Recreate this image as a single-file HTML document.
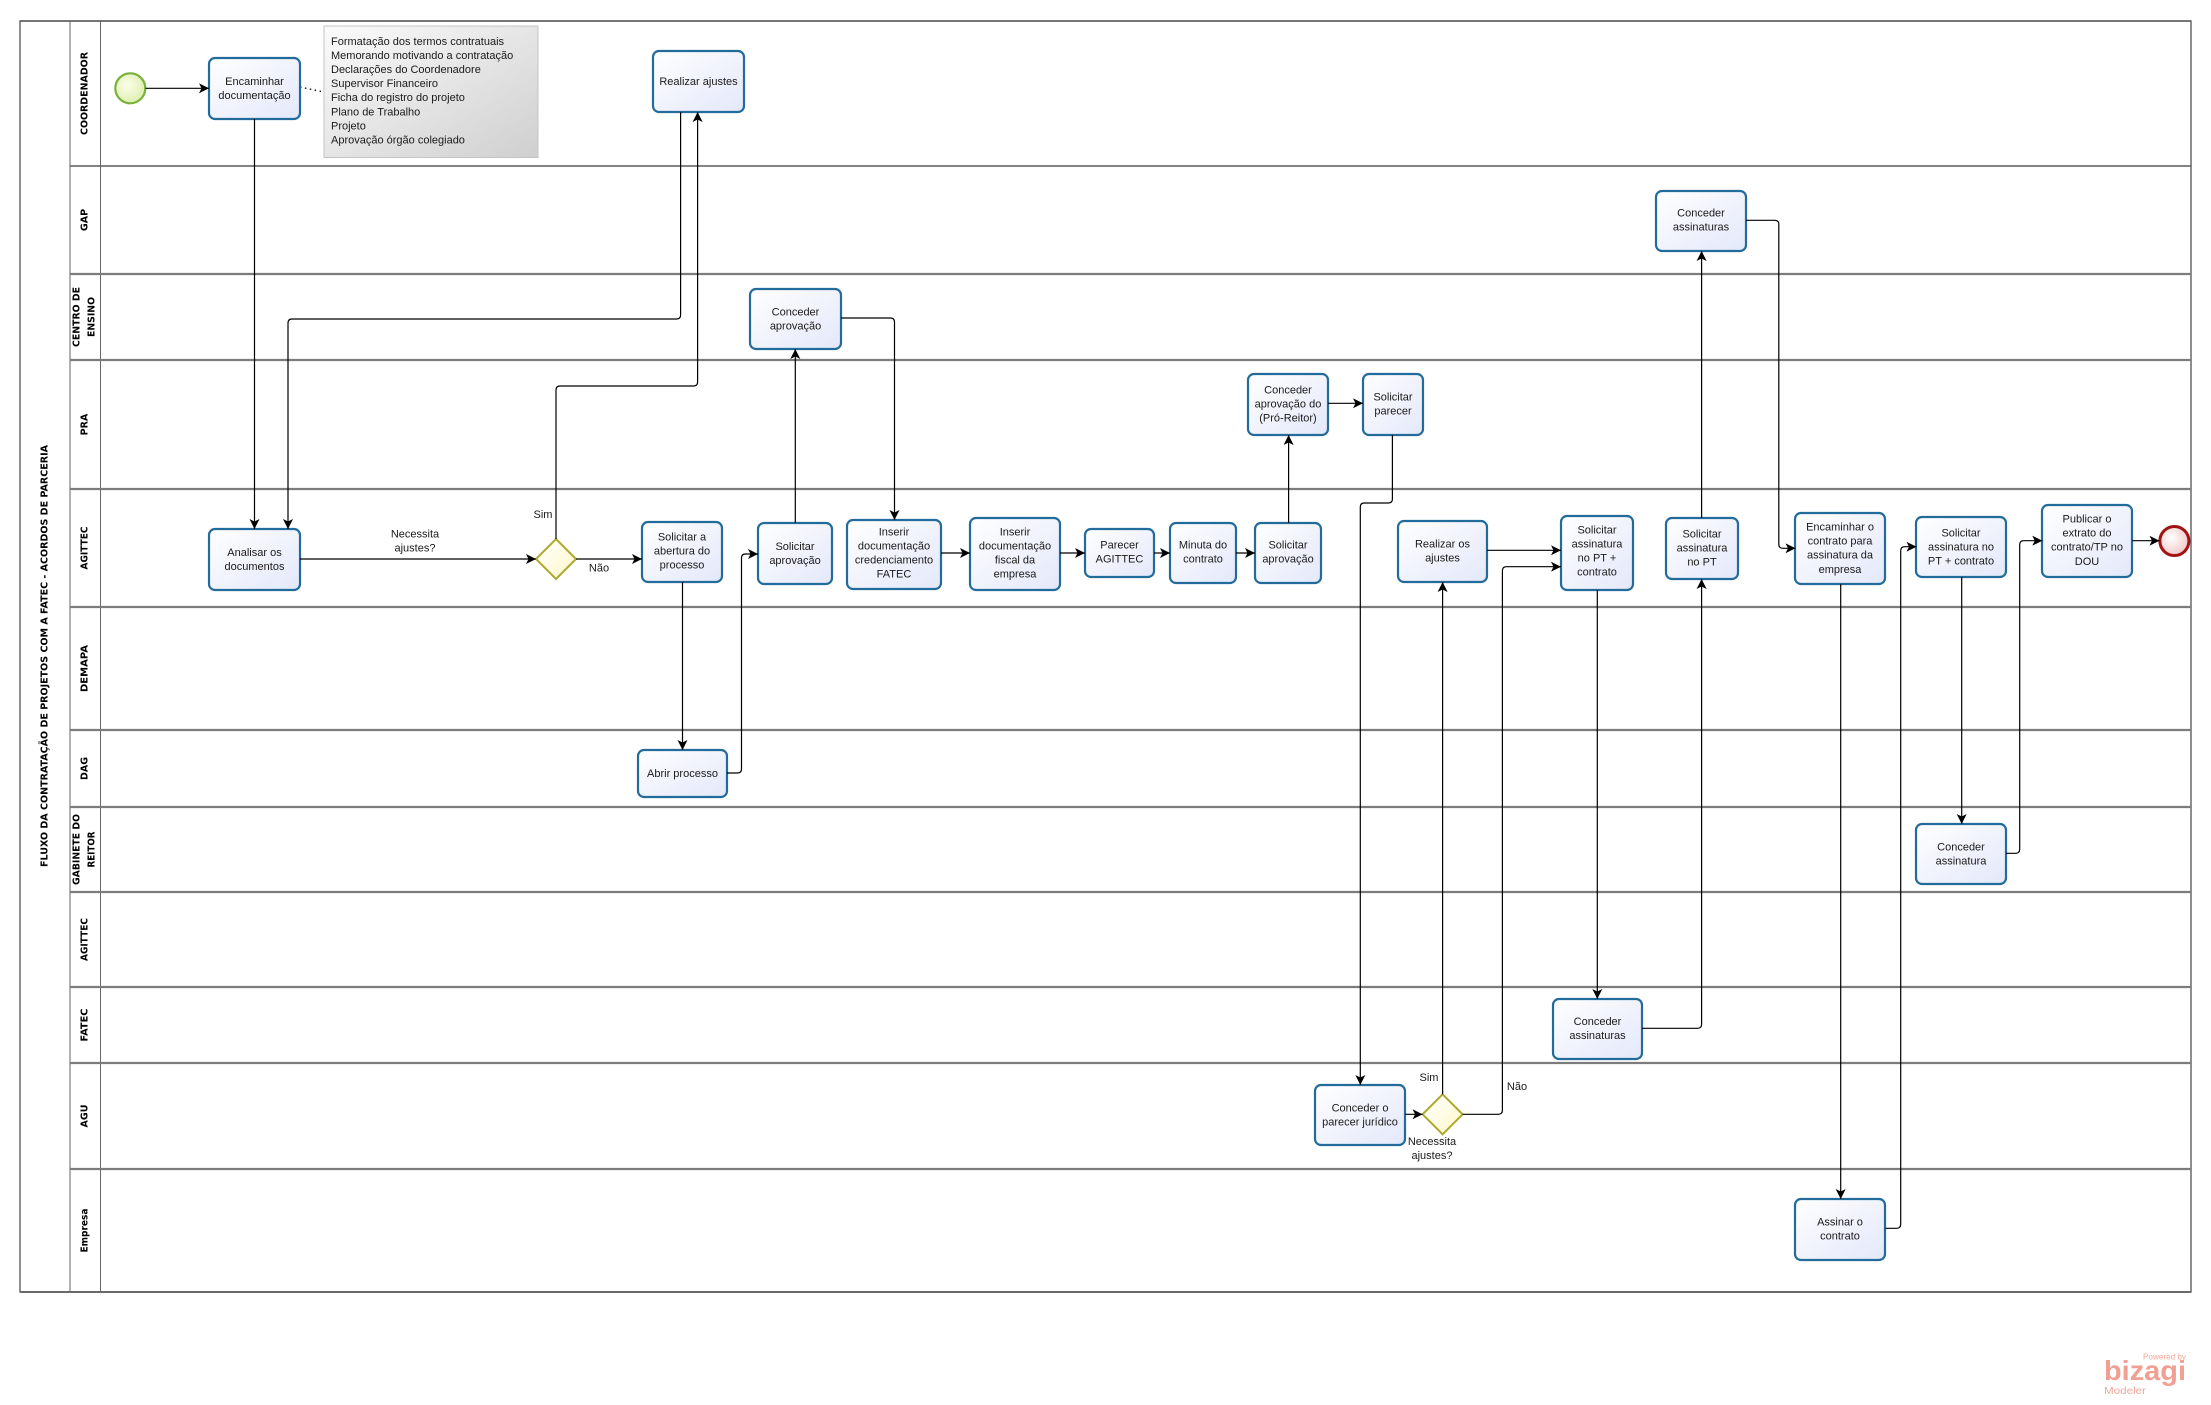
<!DOCTYPE html>
<html><head><meta charset="utf-8">
<style>
html,body{margin:0;padding:0;background:#fff;width:2211px;height:1405px;overflow:hidden}
svg{display:block}
.t{font-family:"Liberation Sans",Arial,sans-serif;font-size:11px;fill:#1a1a1a;text-anchor:middle}
.a{font-family:"Liberation Sans",Arial,sans-serif;font-size:11px;fill:#1a1a1a}
.l{font-family:"DejaVu Sans","Liberation Sans",sans-serif;font-size:9.5px;font-weight:bold;fill:#000;text-anchor:middle;dominant-baseline:central}
.c{fill:none;stroke:#000;stroke-width:1.2;marker-end:url(#ar)}
.b{fill:url(#bx);stroke:#236b9a;stroke-width:2.2}
.ln{stroke:#7c7c7c;stroke-width:2.2}
</style></head>
<body>
<svg width="2211" height="1405" viewBox="0 0 2211 1405" xmlns="http://www.w3.org/2000/svg">
<defs>
<marker id="ar" markerUnits="userSpaceOnUse" markerWidth="10" markerHeight="10" refX="10" refY="5" orient="auto">
<path d="M0,0 L10,5 L0,10 L2.5,5 Z" fill="#000"/>
</marker>
<linearGradient id="bx" x1="0" y1="0" x2="1" y2="1">
<stop offset="0" stop-color="#ffffff"/><stop offset="1" stop-color="#e3e8fa"/>
</linearGradient>
<linearGradient id="an" x1="0" y1="0" x2="1" y2="1">
<stop offset="0" stop-color="#fbfbfb"/><stop offset="1" stop-color="#cfcfcf"/>
</linearGradient>
<linearGradient id="gw" x1="0" y1="0" x2="1" y2="1">
<stop offset="0" stop-color="#ffffff"/><stop offset="1" stop-color="#fdf8c8"/>
</linearGradient>
<radialGradient id="st" cx="0.4" cy="0.4" r="0.7">
<stop offset="0" stop-color="#fbfde9"/><stop offset="1" stop-color="#d9eea8"/>
</radialGradient>
<radialGradient id="en" cx="0.4" cy="0.4" r="0.7">
<stop offset="0" stop-color="#ffffff"/><stop offset="1" stop-color="#f0c0c0"/>
</radialGradient>
</defs>

<!-- Pool -->
<rect x="20" y="21" width="2171" height="1271" fill="#fff" stroke="#444" stroke-width="1.2"/>
<line x1="70" y1="21" x2="70" y2="1292" stroke="#666" stroke-width="1"/>
<line x1="100.5" y1="21" x2="100.5" y2="1292" stroke="#666" stroke-width="1"/>
<line x1="20" y1="21" x2="2191" y2="21" stroke="#555" stroke-width="1.5"/>
<line x1="70" y1="166" x2="2191" y2="166" stroke="#5a5a5a" stroke-width="1.5"/>
<line class="ln" x1="70" y1="274" x2="2191" y2="274"/>
<line class="ln" x1="70" y1="360" x2="2191" y2="360"/>
<line class="ln" x1="70" y1="489" x2="2191" y2="489"/>
<line class="ln" x1="70" y1="607" x2="2191" y2="607"/>
<line class="ln" x1="70" y1="730" x2="2191" y2="730"/>
<line class="ln" x1="70" y1="807" x2="2191" y2="807"/>
<line class="ln" x1="70" y1="892" x2="2191" y2="892"/>
<line class="ln" x1="70" y1="987" x2="2191" y2="987"/>
<line class="ln" x1="70" y1="1063" x2="2191" y2="1063"/>
<line class="ln" x1="70" y1="1169" x2="2191" y2="1169"/>
<line x1="20" y1="1292" x2="2191" y2="1292" stroke="#6a6a6a" stroke-width="2"/>

<!-- Pool title -->
<text class="l" transform="translate(45,656) rotate(-90)" textLength="422" lengthAdjust="spacingAndGlyphs">FLUXO DA CONTRATAÇÃO DE PROJETOS COM A FATEC - ACORDOS DE PARCERIA</text>

<!-- Lane labels -->
<text class="l" transform="translate(85,93.5) rotate(-90)" textLength="83" lengthAdjust="spacingAndGlyphs">COORDENADOR</text>
<text class="l" transform="translate(85,220) rotate(-90)">GAP</text>
<text class="l" transform="translate(77,317) rotate(-90)" textLength="60" lengthAdjust="spacingAndGlyphs">CENTRO DE</text>
<text class="l" transform="translate(92,317) rotate(-90)" textLength="40" lengthAdjust="spacingAndGlyphs">ENSINO</text>
<text class="l" transform="translate(85,424.5) rotate(-90)">PRA</text>
<text class="l" transform="translate(85,548) rotate(-90)" textLength="43" lengthAdjust="spacingAndGlyphs">AGITTEC</text>
<text class="l" transform="translate(85,668.5) rotate(-90)" textLength="47" lengthAdjust="spacingAndGlyphs">DEMAPA</text>
<text class="l" transform="translate(85,768.5) rotate(-90)">DAG</text>
<text class="l" transform="translate(77,849.5) rotate(-90)" textLength="71" lengthAdjust="spacingAndGlyphs">GABINETE DO</text>
<text class="l" transform="translate(92,849.5) rotate(-90)" textLength="36" lengthAdjust="spacingAndGlyphs">REITOR</text>
<text class="l" transform="translate(85,939.5) rotate(-90)" textLength="43" lengthAdjust="spacingAndGlyphs">AGITTEC</text>
<text class="l" transform="translate(85,1025) rotate(-90)" textLength="33" lengthAdjust="spacingAndGlyphs">FATEC</text>
<text class="l" transform="translate(85,1116) rotate(-90)">AGU</text>
<text class="l" transform="translate(85,1230.5) rotate(-90)" textLength="44" lengthAdjust="spacingAndGlyphs">Empresa</text>

<!-- Annotation -->
<rect x="324" y="26" width="214" height="131.5" fill="url(#an)" stroke="#c4c4c4" stroke-width="1"/>
<line x1="300" y1="87" x2="324" y2="92" stroke="#000" stroke-width="1.3" stroke-dasharray="1.5,3.5"/>
<text class="a" x="331" y="45">Formatação dos termos contratuais</text>
<text class="a" x="331" y="59">Memorando motivando a contratação</text>
<text class="a" x="331" y="73">Declarações do Coordenadore</text>
<text class="a" x="331" y="87">Supervisor Financeiro</text>
<text class="a" x="331" y="101">Ficha do registro do projeto</text>
<text class="a" x="331" y="115.5">Plano de Trabalho</text>
<text class="a" x="331" y="129.5">Projeto</text>
<text class="a" x="331" y="143.5">Aprovação órgão colegiado</text>

<!-- Events -->
<circle cx="130.3" cy="88.3" r="15" fill="url(#st)" stroke="#78b23c" stroke-width="2.2"/>
<circle cx="2174.4" cy="541" r="14.5" fill="url(#en)" stroke="#a21313" stroke-width="3"/>

<!-- Gateways -->
<polygon points="556,539 576,559 556,579 536,559" fill="url(#gw)" stroke="#ada92c" stroke-width="2"/>
<polygon points="1442.6,1094.3 1462.6,1114.3 1442.6,1134.3 1422.6,1114.3" fill="url(#gw)" stroke="#ada92c" stroke-width="2"/>

<!-- Tasks -->
<rect class="b" x="209" y="58" width="91" height="61" rx="6"/>
<rect class="b" x="653" y="51" width="91" height="61" rx="6"/>
<rect class="b" x="209" y="529" width="91" height="61" rx="6"/>
<rect class="b" x="642" y="522" width="80" height="60" rx="6"/>
<rect class="b" x="638" y="750" width="89" height="47" rx="6"/>
<rect class="b" x="758" y="523" width="74" height="61" rx="6"/>
<rect class="b" x="750" y="289" width="91" height="60" rx="6"/>
<rect class="b" x="847" y="520" width="94" height="69" rx="6"/>
<rect class="b" x="970" y="518" width="90" height="72" rx="6"/>
<rect class="b" x="1085" y="529" width="69" height="48" rx="6"/>
<rect class="b" x="1170" y="523" width="66" height="60" rx="6"/>
<rect class="b" x="1255" y="523" width="66" height="60" rx="6"/>
<rect class="b" x="1248" y="374" width="80" height="61" rx="6"/>
<rect class="b" x="1363" y="374" width="60" height="61" rx="6"/>
<rect class="b" x="1315" y="1085" width="90" height="60" rx="6"/>
<rect class="b" x="1398" y="521" width="89" height="61" rx="6"/>
<rect class="b" x="1561" y="516" width="72" height="74" rx="6"/>
<rect class="b" x="1666" y="518" width="72" height="61" rx="6"/>
<rect class="b" x="1656" y="191" width="90" height="60" rx="6"/>
<rect class="b" x="1553" y="999" width="89" height="60" rx="6"/>
<rect class="b" x="1795" y="513" width="90" height="71" rx="6"/>
<rect class="b" x="1795" y="1199" width="90" height="61" rx="6"/>
<rect class="b" x="1916" y="517" width="90" height="60" rx="6"/>
<rect class="b" x="1916" y="824" width="90" height="60" rx="6"/>
<rect class="b" x="2042" y="505" width="90" height="72" rx="6"/>

<!-- Connectors -->
<path class="c" d="M145.5,88.3 L209,88.3"/>
<path class="c" d="M254.5,119 L254.5,529"/>
<path class="c" d="M680.6,112 L680.6,315 Q680.6,319 676.6,319 L292,319 Q288,319 288,323 L288,529"/>
<path class="c" d="M300,559 L536,559"/>
<path class="c" d="M556,539 L556,390 Q556,386 560,386 L693.6,386 Q697.6,386 697.6,382 L697.6,112"/>
<path class="c" d="M576,559 L642,559"/>
<path class="c" d="M682.5,582 L682.5,750"/>
<path class="c" d="M727,773 L737.5,773 Q741.5,773 741.5,769 L741.5,558 Q741.5,554 745.5,554 L758,554"/>
<path class="c" d="M795.3,523 L795.3,349"/>
<path class="c" d="M841,318 L890.5,318 Q894.5,318 894.5,322 L894.5,520"/>
<path class="c" d="M941,553 L970,553"/>
<path class="c" d="M1060,553 L1085,553"/>
<path class="c" d="M1154,553 L1170,553"/>
<path class="c" d="M1236,553 L1255,553"/>
<path class="c" d="M1288.6,523 L1288.6,435"/>
<path class="c" d="M1328,403.3 L1363,403.3"/>
<path class="c" d="M1392.4,435 L1392.4,499 Q1392.4,503 1388.4,503 L1364.3,503 Q1360.3,503 1360.3,507 L1360.3,1085"/>
<path class="c" d="M1405,1114.3 L1422.6,1114.3"/>
<path class="c" d="M1442.6,1094.3 L1442.6,582"/>
<path class="c" d="M1462.6,1114.3 L1498.4,1114.3 Q1502.4,1114.3 1502.4,1110.3 L1502.4,570.7 Q1502.4,566.7 1506.4,566.7 L1561,566.7"/>
<path class="c" d="M1487,550.3 L1561,550.3"/>
<path class="c" d="M1597.3,590 L1597.3,999"/>
<path class="c" d="M1642,1028.3 L1697.6,1028.3 Q1701.6,1028.3 1701.6,1024.3 L1701.6,579"/>
<path class="c" d="M1701.6,518 L1701.6,251"/>
<path class="c" d="M1746,220.3 L1774.8,220.3 Q1778.8,220.3 1778.8,224.3 L1778.8,544.3 Q1778.8,548.3 1782.8,548.3 L1795.5,548.3"/>
<path class="c" d="M1840.7,584 L1840.7,1199"/>
<path class="c" d="M1885.5,1228.3 L1896.7,1228.3 Q1900.7,1228.3 1900.7,1224.3 L1900.7,550.7 Q1900.7,546.7 1904.7,546.7 L1916.5,546.7"/>
<path class="c" d="M1961.7,577 L1961.7,824"/>
<path class="c" d="M2006,853.3 L2015.7,853.3 Q2019.7,853.3 2019.7,849.3 L2019.7,544.7 Q2019.7,540.7 2023.7,540.7 L2042.3,540.7"/>
<path class="c" d="M2132.3,540.7 L2159.5,540.7"/>

<!-- Task texts -->
<text class="t" x="254.5" y="85"><tspan x="254.5">Encaminhar</tspan><tspan x="254.5" dy="14">documentação</tspan></text>
<text class="t" x="698.5" y="85">Realizar ajustes</text>
<text class="t" x="254.5" y="556"><tspan x="254.5">Analisar os</tspan><tspan x="254.5" dy="14">documentos</tspan></text>
<text class="t" x="682" y="540.5"><tspan x="682">Solicitar a</tspan><tspan x="682" dy="14">abertura do</tspan><tspan x="682" dy="14">processo</tspan></text>
<text class="t" x="682.5" y="777">Abrir processo</text>
<text class="t" x="795" y="550"><tspan x="795">Solicitar</tspan><tspan x="795" dy="14">aprovação</tspan></text>
<text class="t" x="795.5" y="315.5"><tspan x="795.5">Conceder</tspan><tspan x="795.5" dy="14">aprovação</tspan></text>
<text class="t" x="894" y="535.5"><tspan x="894">Inserir</tspan><tspan x="894" dy="14">documentação</tspan><tspan x="894" dy="14">credenciamento</tspan><tspan x="894" dy="14">FATEC</tspan></text>
<text class="t" x="1015" y="535.5"><tspan x="1015">Inserir</tspan><tspan x="1015" dy="14">documentação</tspan><tspan x="1015" dy="14">fiscal da</tspan><tspan x="1015" dy="14">empresa</tspan></text>
<text class="t" x="1119.5" y="548.5"><tspan x="1119.5">Parecer</tspan><tspan x="1119.5" dy="14">AGITTEC</tspan></text>
<text class="t" x="1203" y="548.5"><tspan x="1203">Minuta do</tspan><tspan x="1203" dy="14">contrato</tspan></text>
<text class="t" x="1288" y="548.5"><tspan x="1288">Solicitar</tspan><tspan x="1288" dy="14">aprovação</tspan></text>
<text class="t" x="1288" y="393.5"><tspan x="1288">Conceder</tspan><tspan x="1288" dy="14">aprovação do</tspan><tspan x="1288" dy="14">(Pró-Reitor)</tspan></text>
<text class="t" x="1393" y="400.5"><tspan x="1393">Solicitar</tspan><tspan x="1393" dy="14">parecer</tspan></text>
<text class="t" x="1360" y="1111.5"><tspan x="1360">Conceder o</tspan><tspan x="1360" dy="14">parecer jurídico</tspan></text>
<text class="t" x="1442.5" y="547.5"><tspan x="1442.5">Realizar os</tspan><tspan x="1442.5" dy="14">ajustes</tspan></text>
<text class="t" x="1597" y="533.5"><tspan x="1597">Solicitar</tspan><tspan x="1597" dy="14">assinatura</tspan><tspan x="1597" dy="14">no PT +</tspan><tspan x="1597" dy="14">contrato</tspan></text>
<text class="t" x="1702" y="537.5"><tspan x="1702">Solicitar</tspan><tspan x="1702" dy="14">assinatura</tspan><tspan x="1702" dy="14">no PT</tspan></text>
<text class="t" x="1701" y="216.5"><tspan x="1701">Conceder</tspan><tspan x="1701" dy="14">assinaturas</tspan></text>
<text class="t" x="1597.5" y="1025"><tspan x="1597.5">Conceder</tspan><tspan x="1597.5" dy="14">assinaturas</tspan></text>
<text class="t" x="1840" y="530.5"><tspan x="1840">Encaminhar o</tspan><tspan x="1840" dy="14">contrato para</tspan><tspan x="1840" dy="14">assinatura da</tspan><tspan x="1840" dy="14.5">empresa</tspan></text>
<text class="t" x="1840" y="1225.5"><tspan x="1840">Assinar o</tspan><tspan x="1840" dy="14">contrato</tspan></text>
<text class="t" x="1961" y="536.5"><tspan x="1961">Solicitar</tspan><tspan x="1961" dy="14">assinatura no</tspan><tspan x="1961" dy="14">PT + contrato</tspan></text>
<text class="t" x="1961" y="850.5"><tspan x="1961">Conceder</tspan><tspan x="1961" dy="14">assinatura</tspan></text>
<text class="t" x="2087" y="522.5"><tspan x="2087">Publicar o</tspan><tspan x="2087" dy="14">extrato do</tspan><tspan x="2087" dy="14">contrato/TP no</tspan><tspan x="2087" dy="14.5">DOU</tspan></text>

<!-- Connector labels -->
<text class="t" x="415" y="537.5"><tspan x="415">Necessita</tspan><tspan x="415" dy="14">ajustes?</tspan></text>
<text class="t" x="543" y="518">Sim</text>
<text class="t" x="599" y="571.5">Não</text>
<text class="t" x="1429" y="1081">Sim</text>
<text class="t" x="1517" y="1090">Não</text>
<text class="t" x="1432" y="1145"><tspan x="1432">Necessita</tspan><tspan x="1432" dy="14">ajustes?</tspan></text>

<!-- Bizagi logo -->
<text x="2186" y="1359.5" font-family="Liberation Sans, sans-serif" font-size="8" fill="#f2a698" text-anchor="end" textLength="43" lengthAdjust="spacingAndGlyphs">Powered by</text>
<text x="2104" y="1380" font-family="Liberation Sans, sans-serif" font-size="28" font-weight="bold" fill="#f0a092" textLength="82" lengthAdjust="spacingAndGlyphs">bizagi</text>
<text x="2104" y="1394" font-family="Liberation Sans, sans-serif" font-size="10" fill="#f2a698" textLength="42" lengthAdjust="spacingAndGlyphs">Modeler</text>
</svg>
</body></html>
